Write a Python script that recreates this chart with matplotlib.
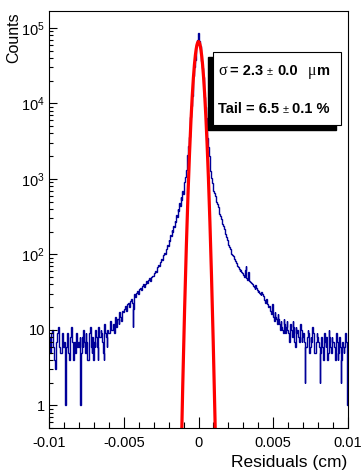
import numpy as np
import matplotlib
matplotlib.use("Agg")
import matplotlib.pyplot as plt
from matplotlib.ticker import FixedLocator, FuncFormatter, LogLocator, NullFormatter
from matplotlib.patches import Rectangle

plt.rcParams["font.family"] = ["Liberation Sans", "DejaVu Sans"]
plt.rcParams["mathtext.fontset"] = "custom"
plt.rcParams["mathtext.rm"] = "Liberation Sans"
plt.rcParams["mathtext.it"] = "Liberation Sans"

# histogram range / bins
x_lo, x_hi, n_bins = -0.01, 0.01, 400

# counts, left half (from -0.01 towards 0)
counts_left = [
    8, 6, 5, 9, 10, 7, 6, 4, 3, 6, 7, 9, 11, 8, 6, 5, 5, 7, 9, 6,
    7, 5, 1, 6, 9, 7, 5, 4, 8, 10, 11, 7, 4, 6, 7, 5, 9, 8, 6, 7,
    6, 8, 1, 5, 8, 6, 10, 7, 5, 9, 7, 4, 4, 6, 9, 11, 6, 5, 8, 4,
    7, 6, 10, 8, 6, 4, 11, 8, 8, 10, 9, 7, 5, 4, 12, 9, 8, 6, 10, 9,
    9, 11, 13, 10, 10, 12, 12, 9, 15, 13, 11, 14, 14, 12, 17, 15, 13, 16, 18, 17,
    17, 19, 21, 18, 19, 22, 23, 20, 20, 24, 26, 23, 11, 19, 30, 27, 28, 31, 33, 30,
    33, 35, 36, 34, 35, 38, 40, 37, 39, 41, 44, 42, 43, 46, 48, 45, 47, 50, 52, 51,
    54, 56, 61, 58, 64, 67, 72, 70, 77, 80, 86, 84, 92, 97, 104, 101, 113, 118, 133, 128,
    155, 150, 182, 175, 210, 200, 240, 230, 280, 265, 330, 310, 400, 370, 480, 440, 575, 530, 690, 640,
    780, 900, 1050, 1300, 1600, 2050, 2700, 3600, 4900, 6700,
    9200, 12500, 17000, 23000, 30000, 38000, 48000, 59000, 70000, 85000,
]
# right half (from 0 towards +0.01)
counts_right = [
    82000, 68000, 57000, 47000, 37000, 29500, 22500, 16500, 12200, 9000,
    6500, 4800, 3500, 2650, 2000, 1580, 1280, 1030, 890, 770,
    700, 660, 600, 560, 500, 470, 420, 390, 345, 320, 290, 275, 250, 235, 215, 200, 185, 170, 155, 145,
    135, 125, 118, 110, 102, 98, 94, 90, 87, 82, 76, 72, 71, 68, 64, 61, 63, 58, 56, 53,
    53, 50, 62, 70, 49, 46, 59, 55, 45, 43, 42, 40, 41, 38, 37, 35, 39, 36, 34, 32,
    33, 31, 30, 29, 32, 30, 28, 26, 25, 23, 26, 24, 22, 20, 21, 19, 18, 16, 22, 19,
    15, 13, 17, 15, 14, 12, 16, 14, 12, 10, 13, 11, 10, 9, 14, 12, 9, 11, 13, 10,
    9, 7, 11, 12, 10, 8, 13, 11, 7, 6, 11, 9, 10, 8, 8, 7, 12, 10, 7, 8,
    9, 7, 2, 6, 6, 8, 10, 9, 5, 6, 8, 7, 11, 9, 6, 5, 5, 7, 9, 8,
    7, 6, 2, 5, 8, 6, 5, 4, 9, 7, 6, 8, 4, 5, 10, 8, 6, 5, 8, 7,
    7, 6, 5, 4, 9, 7, 4, 5, 8, 6, 2, 4, 7, 6, 5, 6, 9, 7, 4, 1,
]

# gaussian fit parameters
fit_amp = 6.6e4
fit_mean = 0.0
fit_sigma = 0.00023  # cm

x_ticks = [-0.01, -0.005, 0, 0.005, 0.01]
x_ticklabels = ["-0.01", "-0.005", "0", "0.005", "0.01"]

W, H = 364, 475
fig = plt.figure(figsize=(W / 100, H / 100), dpi=100)
ax = fig.add_axes([49 / W, 1 - 428 / H, 299 / W, 417 / H])

edges = np.linspace(x_lo, x_hi, n_bins + 1)
counts = np.array(counts_left + counts_right, dtype=float)
ax.stairs(counts, edges, baseline=None, color="#000099", lw=1.0)

xf = np.linspace(-0.002, 0.002, 800)
yf = fit_amp * np.exp(-0.5 * ((xf - fit_mean) / fit_sigma) ** 2)
ax.plot(xf, yf, color="#ff0000", lw=2.3)

ax.set_yscale("log")
ax.set_xlim(x_lo, x_hi)
ax.set_ylim(0.5, 1.68e5)

ax.xaxis.set_major_locator(FixedLocator(x_ticks))
ax.set_xticklabels(x_ticklabels)
ax.xaxis.set_minor_locator(FixedLocator(np.arange(-0.01, 0.0101, 0.001)))
ax.yaxis.set_major_locator(LogLocator(base=10, numticks=20))
ax.yaxis.set_minor_locator(LogLocator(base=10, subs=np.arange(2, 10), numticks=20))
ax.yaxis.set_minor_formatter(NullFormatter())


def ylab(v, pos):
    if v == 1:
        return "1"
    if v == 10:
        return "10"
    return r"$10^{%d}$" % int(round(np.log10(v)))


ax.yaxis.set_major_formatter(FuncFormatter(ylab))
ax.tick_params(axis="x", which="major", direction="in", length=8, width=0.8,
               labelsize=10.5, pad=6)
ax.tick_params(axis="x", which="minor", direction="in", length=4.5, width=0.8)
ax.tick_params(axis="y", which="major", direction="in", length=6, width=0.8,
               labelsize=10.5, pad=3)
ax.tick_params(axis="y", which="minor", direction="in", length=3, width=0.8)
for s in ax.spines.values():
    s.set_linewidth(0.8)

fig.text(347 / W, 1 - 463 / H, "Residuals (cm)", ha="right", va="center", fontsize=12.5)
fig.text(14 / W, 1 - 12 / H, "Counts", ha="center", va="top", rotation=90, fontsize=11.5)

# stats box with shadow
bx0, by0, bx1, by1 = 213, 52, 341, 125
fig.patches.append(Rectangle(((bx0 - 5) / W, 1 - (by1 + 5) / H), (bx1 - bx0) / W,
                             (by1 - by0) / H, transform=fig.transFigure,
                             facecolor="black", edgecolor="black", zorder=5))
fig.patches.append(Rectangle((bx0 / W, 1 - by1 / H), (bx1 - bx0) / W, (by1 - by0) / H,
                             transform=fig.transFigure, facecolor="white",
                             edgecolor="black", lw=0.8, zorder=6))

lines = [
    (75, [(218, "σ", "Liberation Serif", "normal", 11.5),
          (230, "= 2.3", "Liberation Sans", "bold", 10.5),
          (267, "±", "Liberation Sans", "normal", 8),
          (277, "0.0", "Liberation Sans", "bold", 10.5),
          (308, "μ", "Liberation Serif", "normal", 11.5),
          (317, "m", "Liberation Sans", "bold", 10.5)]),
    (113, [(218, "Tail = 6.5", "Liberation Sans", "bold", 10.5),
           (283, "±", "Liberation Sans", "normal", 8),
           (292, "0.1 %", "Liberation Sans", "bold", 10.5)]),
]
for yb, pieces in lines:
    for xp, txt, fam, wt, fs in pieces:
        fig.text(xp / W, 1 - yb / H, txt, ha="left", va="baseline", family=fam,
                 weight=wt, fontsize=fs, zorder=7)

fig.savefig("out.png", dpi=100)
